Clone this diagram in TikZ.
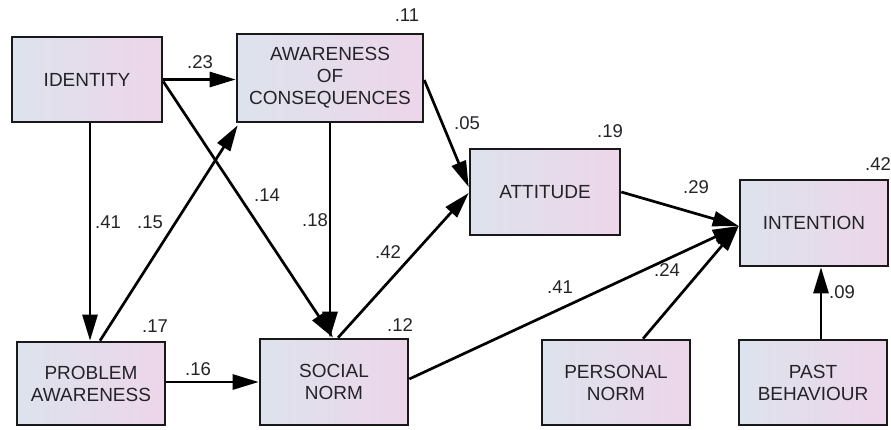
\documentclass[tikz,border=0pt]{standalone}
\usepackage{fontspec}
\setmainfont{Liberation Sans}
\usetikzlibrary{arrows.meta}
\definecolor{boxL}{RGB}{221,227,237}
\definecolor{boxR}{RGB}{237,213,234}
\definecolor{txt}{RGB}{35,35,40}
\tikzset{
  box/.style={draw=black!90, line width=2.6pt, left color=boxL, right color=boxR,
    align=center, text=txt, inner sep=0pt,
    font=\fontsize{19}{22}\selectfont},
  conn/.style={line width=2.7pt, -{Triangle[length=26pt,width=15pt]}},
  lab/.style={text=txt, font=\fontsize{18.5}{20}\selectfont, inner sep=0pt}
}
\begin{document}
\begin{tikzpicture}[x=1pt,y=-1pt]
\useasboundingbox (0,0) rectangle (891,429);
\node[box, minimum width=150pt, minimum height=85pt] (id) at (87,79.5) {IDENTITY};
\node[box, minimum width=186pt, minimum height=88pt] (aoc) at (330,78) {AWARENESS\\OF\\CONSEQUENCES};
\node[box, minimum width=148pt, minimum height=83pt] (pa) at (91,383.5) {PROBLEM\\AWARENESS};
\node[box, minimum width=148pt, minimum height=86pt] (sn) at (334,382) {SOCIAL\\NORM};
\node[box, minimum width=150pt, minimum height=86pt] (att) at (545,192) {ATTITUDE};
\node[box, minimum width=148pt, minimum height=86pt] (int) at (814,223) {INTENTION};
\node[box, minimum width=148pt, minimum height=85pt] (pn) at (616,382.5) {PERSONAL\\NORM};
\node[box, minimum width=148pt, minimum height=85pt] (pb) at (813,382.5) {PAST\\BEHAVIOUR};

\draw[conn] (id.east) -- (aoc.west |- id.east);
\draw[conn] ([yshift=-2pt]id.east) -- ([xshift=-1pt]sn.north);
\draw[conn] ([xshift=3pt]id.south) -- ([xshift=-1pt]pa.north);
\draw[conn] ([xshift=9pt]pa.north) -- ([xshift=2pt,yshift=-2pt]aoc.south west);
\draw[conn] (aoc.south) -- ([xshift=-4pt]sn.north);
\draw[conn] ([yshift=-2pt]aoc.east) -- ([yshift=5pt]att.west);
\draw[conn] ([xshift=4pt]sn.north) -- ([yshift=-1pt]att.west);
\draw[conn] (pa.east |- sn.east) -- (sn.west);
\draw[conn] (att.east) -- ([yshift=-3pt]int.west);
\draw[conn] ([yshift=3pt]sn.east) -- ([yshift=-3pt]int.west);
\draw[conn] ([xshift=27pt]pn.north) -- ([yshift=-3pt]int.west);
\draw[conn] ([xshift=8pt]pb.north) -- ([xshift=7pt]int.south);

\node[lab] (l1) at (200,62) {.23};
\node[lab] (l2) at (108,222) {.41};
\node[lab] (l3) at (150,222) {.15};
\node[lab] (l4) at (267,195) {.14};
\node[lab] (l5) at (315,220) {.18};
\node[lab] (l6) at (467,123) {.05};
\node[lab] (l7) at (388,252) {.42};
\node[lab] (l8) at (407,15) {.11};
\node[lab] (l9) at (155,326) {.17};
\node[lab] (l10) at (400,325) {.12};
\node[lab] (l11) at (198,369) {.16};
\node[lab] (l12) at (610,131) {.19};
\node[lab] (l13) at (696,187) {.29};
\node[lab] (l14) at (560,287) {.41};
\node[lab] (l15) at (667,270) {.24};
\node[lab] (l16) at (842,292) {.09};
\node[lab] (l17) at (878,164) {.42};
\end{tikzpicture}
\end{document}
